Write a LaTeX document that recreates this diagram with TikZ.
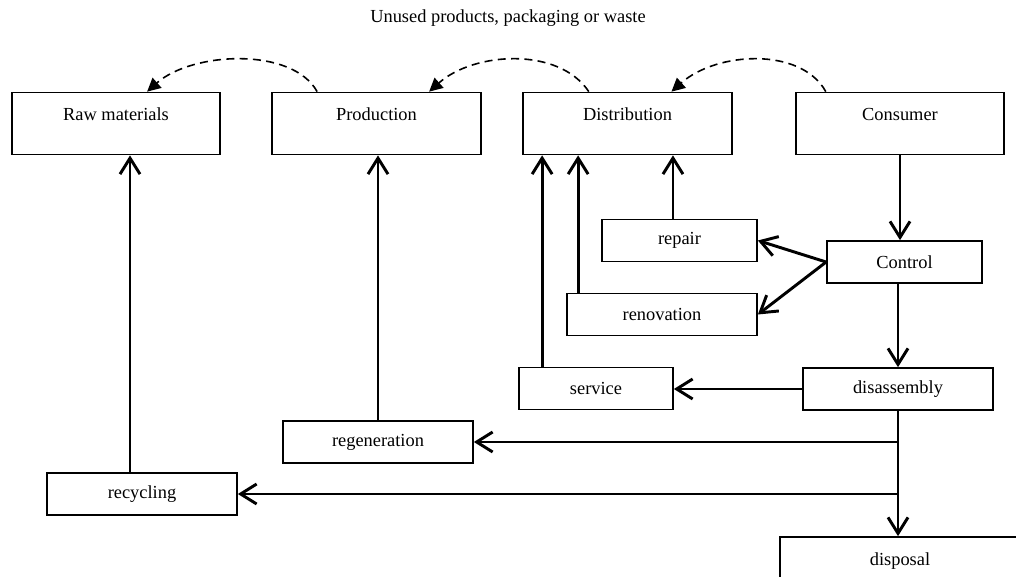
\documentclass[tikz,border=0pt]{standalone}
\usepackage{fontspec}
\setmainfont{Liberation Serif}
\usetikzlibrary{arrows.meta}

\tikzset{
  block/.style={shape=rectangle,draw=black,line width=1.3pt,align=center,inner sep=0pt,minimum height=31.5pt,font=\fontsize{13.8}{16}\selectfont},
  topblock/.style={block,text height=21pt,text depth=25.5pt,minimum height=46.5pt},
  flowarrow/.style={draw=black,line width=2.2pt,-{Straight Barb[length=12pt,width=15pt]}},
  backarrow/.style={draw=black,line width=1.2pt,dash pattern=on 6pt off 4pt,-{Triangle[length=10pt,width=10pt]}},
}

\begin{document}
\begin{tikzpicture}[x=0.75pt,y=-0.75pt]
\useasboundingbox (0,0) rectangle (1016,577);
\clip (0,0) rectangle (1016,577);

\node[font=\fontsize{13.8}{16}\selectfont] (title) at (508,18) {Unused products, packaging or waste};

\node[topblock,minimum width=156pt] (raw) at (116,123.5) {Raw materials};
\node[topblock,minimum width=156.75pt] (prod) at (376.5,123.5) {Production};
\node[topblock,minimum width=156.75pt] (dist) at (627.5,123.5) {Distribution};
\node[topblock,minimum width=156pt] (cons) at (900,123.5) {Consumer};
\node[block,minimum width=116.25pt] (repair) at (679.5,240.5) {repair};
\node[block,minimum width=116.25pt] (control) at (904.5,262) {Control};
\node[block,minimum width=142.5pt] (renov) at (662,314.5) {renovation};
\node[block,minimum width=115.5pt] (service) at (596,388.5) {service};
\node[block,minimum width=142.5pt] (disasm) at (898,389) {disassembly};
\node[block,minimum width=142.5pt] (regen) at (378,442) {regeneration};
\node[block,minimum width=142.5pt] (recyc) at (142,494) {recycling};
\node[topblock,minimum width=180pt] (disposal) at (900,568) {disposal};

% returns of unused goods
\draw[backarrow] ([xshift=34.5pt]prod.north west) .. controls +(-25,-45) and +(45,-40) .. ([xshift=102pt]raw.north west);
\draw[backarrow] ([xshift=50pt]dist.north west) .. controls +(-30,-45) and +(45,-40) .. ([xshift=118.5pt]prod.north west);
\draw[backarrow] ([xshift=23pt]cons.north west) .. controls +(-25,-45) and +(45,-40) .. ([xshift=112pt]dist.north west);

% main flow
\draw[flowarrow] (cons.south) -- (cons.south |- control.north);
\draw[flowarrow] (control.west) -- (repair.east);
\draw[flowarrow] (control.west) -- (renov.east);
\draw[flowarrow] ([xshift=-4.9pt]repair.north) -- ([xshift=-4.9pt]repair.north |- dist.south);
\draw[flowarrow] ([xshift=9pt]renov.north west) -- ([xshift=9pt]renov.north west |- dist.south);
\draw[flowarrow] ([xshift=18pt]service.north west) -- ([xshift=18pt]service.north west |- dist.south);
\draw[flowarrow] (disasm.north |- control.south) -- (disasm.north);
\draw[flowarrow] (disasm.west) -- (disasm.west -| service.east);
\draw[flowarrow] (regen.north) -- (regen.north |- prod.south);
\draw[flowarrow] ([xshift=-9pt]recyc.north) -- ([xshift=-9pt]recyc.north |- raw.south);

\coordinate (fork1) at (disasm.south |- regen.east);
\coordinate (fork2) at (disasm.south |- recyc.east);
\draw[flowarrow] (disasm.south) -- (disasm.south |- disposal.north);
\draw[flowarrow] (fork1) -- (regen.east);
\draw[flowarrow] (fork2) -- (recyc.east);
\end{tikzpicture}
\end{document}
